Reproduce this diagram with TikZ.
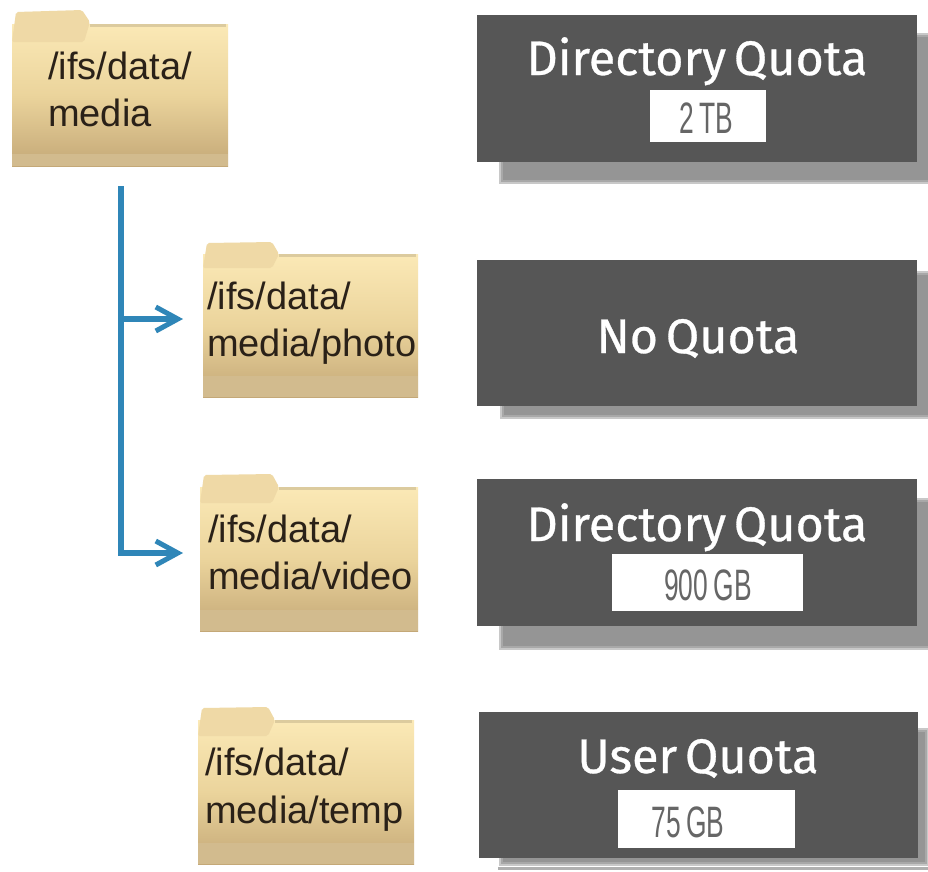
\documentclass[tikz,border=0pt]{standalone}
\usepackage{fontspec}
\setmainfont{Liberation Sans}
\newfontfamily\quotafont[FakeBold=0.6,WordSpace=0.6]{Fira Sans}
\newfontfamily\valuefont[WordSpace=0.75]{Liberation Sans}
\usetikzlibrary{arrows.meta}
\definecolor{foldertop}{HTML}{FBE9B6}
\definecolor{foldermid}{HTML}{EBD49C}
\definecolor{folderlow}{HTML}{C4A877}
\definecolor{folderband}{HTML}{D2BB8E}
\definecolor{foldertab}{HTML}{EFD9A6}
\definecolor{folderedge}{HTML}{DCCB9E}
\definecolor{quotabox}{HTML}{565656}
\definecolor{quotashadow}{HTML}{7C7C7C}
\definecolor{valueink}{HTML}{666666}
\definecolor{linkblue}{HTML}{2F86B8}
\definecolor{labelink}{HTML}{2A2118}
\tikzset{
  folderbody/.style={anchor=north west,inner sep=0pt,outer sep=0pt,
    top color=foldertop,bottom color=folderlow,middle color=foldermid,shading angle=0},
  foldertabshape/.style={fill=foldertab,draw=none,rounded corners=2pt},
  folderfoot/.style={fill=folderband,draw=none},
  folderrim/.style={draw=folderedge,line width=3pt},
  folderlabel/.style={anchor=base west,inner sep=0pt,text=labelink,font=\fontsize{38}{47}\selectfont},
  quotapanel/.style={anchor=north west,inner sep=0pt,outer sep=0pt,fill=quotabox},
  quotatitle/.style={anchor=base,inner sep=0pt,text=white,font=\quotafont\fontsize{48.5}{49}\selectfont},
  quotavalue/.style={fill=white,inner sep=0pt,anchor=north west},
  valuetext/.style={anchor=base,inner sep=0pt,text=valueink,xscale=.6,font=\valuefont\fontsize{44}{44}\selectfont},
  softshadow/.style={fill=quotashadow,fill opacity=.42,draw=none},
  linkline/.style={draw=linkblue,line width=5.5pt},
  linkhead/.style={-{Straight Barb[length=22pt,width=24pt,line width=5pt]}}
}
\begin{document}
\begin{tikzpicture}[x=1pt,y=-1pt]
\useasboundingbox (0,0) rectangle (928,871);
\fill[white] (0,0) rectangle (928,871);

% folders
\node[folderbody,minimum width=216pt,minimum height=142pt] (media) at (12,24) {};
\draw[folderrim] (90,25) -- (226,25);
\fill[foldertabshape] (12,42) -- (16,12) -- (82,10) -- (90,22) -- (84,42) -- cycle;
\fill[folderfoot] (12,154) rectangle (228,166);
\node[folderlabel] (medialabel) at (48,79) {/ifs/data/};
\node[folderlabel] (medialabelb) at (48,126) {media};

\node[folderbody,minimum width=215pt,minimum height=143pt] (photo) at (203,254) {};
\draw[folderrim] (279,255) -- (416,255);
\fill[foldertabshape] (203,268) -- (207,243) -- (272,242) -- (279,254) -- (272,268) -- cycle;
\fill[folderfoot] (203,376) rectangle (418,397);
\node[folderlabel] (photolabel) at (207,309) {/ifs/data/};
\node[folderlabel] (photolabelb) at (207,356) {media/photo};

\node[folderbody,minimum width=218pt,minimum height=144pt] (video) at (200,487) {};
\draw[folderrim] (279,488) -- (416,488);
\fill[foldertabshape] (200,503) -- (204,475) -- (272,474) -- (279,487) -- (272,503) -- cycle;
\fill[folderfoot] (200,610) rectangle (418,631);
\node[folderlabel] (videolabel) at (208,542) {/ifs/data/};
\node[folderlabel] (videolabelb) at (208,589) {media/video};

\node[folderbody,minimum width=216pt,minimum height=144pt] (temp) at (198,720) {};
\draw[folderrim] (275,721) -- (412,721);
\fill[foldertabshape] (198,736) -- (202,708) -- (268,707) -- (275,720) -- (268,736) -- cycle;
\fill[folderfoot] (198,843) rectangle (414,864);
\node[folderlabel] (templabel) at (205,775) {/ifs/data/};
\node[folderlabel] (templabelb) at (205,823) {media/temp};

% connectors
\coordinate (trunktop) at (121,186);
\coordinate (photoin) at (183,319);
\coordinate (videoin) at (183,553);
\draw[linkline,linkhead] (trunktop |- photoin) -- (photoin);
\draw[linkline,linkhead] (trunktop) -- (trunktop |- videoin) -- (videoin);

% shadows
\foreach \d in {0,2,4}{
  \fill[softshadow] (499+\d,33+\d) rectangle (930,184-\d);
  \fill[softshadow] (500+\d,271+\d) rectangle (930,419-\d);
  \fill[softshadow] (499+\d,498+\d) rectangle (930,650-\d);
  \fill[softshadow] (499+\d,728+\d) rectangle (929-\d,866-\d);
}
\fill[quotashadow,fill opacity=.6] (498,867) rectangle (928,870);

% panels
\node[quotapanel,minimum width=440pt,minimum height=147pt] (p1) at (477,15) {};
\node[quotapanel,minimum width=440pt,minimum height=146pt] (p2) at (477,260) {};
\node[quotapanel,minimum width=440pt,minimum height=147pt] (p3) at (477,479) {};
\node[quotapanel,minimum width=439pt,minimum height=146pt] (p4) at (479,712) {};

\node[quotatitle] (t1) at (697,75) {Directory Quota};
\node[quotatitle] (t2) at (698,353) {No Quota};
\node[quotatitle] (t3) at (697,541) {Directory Quota};
\node[quotatitle] (t4) at (698,773) {User Quota};

\node[quotavalue,minimum width=116pt,minimum height=52pt] (v1) at (650,90) {};
\node[quotavalue,minimum width=191pt,minimum height=57pt] (v3) at (612,554) {};
\node[quotavalue,minimum width=177pt,minimum height=58pt] (v4) at (618,790) {};
\node[valuetext] (vt1) at (706,133) {2 TB};
\node[valuetext] (vt3) at (708,600) {900 GB};
\node[valuetext] (vt4) at (688,837) {75 GB};
\end{tikzpicture}
\end{document}
